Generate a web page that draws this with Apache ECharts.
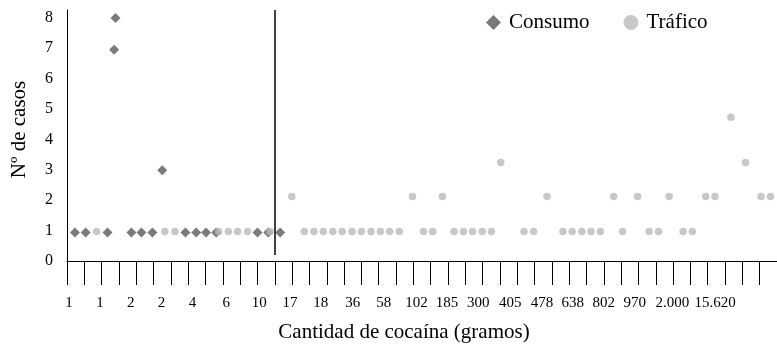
<!DOCTYPE html>
<html>
<head>
<meta charset="utf-8">
<script src="https://cdn.jsdelivr.net/npm/echarts@6/dist/echarts.min.js"></script>
<style>
html,body{margin:0;padding:0;background:#fff;}
#chart{width:777px;height:348px;}
</style>
</head>
<body>
<div id="chart"></div>
<script>
// x positions are in tick-band units of the axis (ticks at 0,1,2,...,41)
const consumoX = [0.46, 1.08, 2.34, 2.72, 2.80, 3.72, 4.30, 4.93, 5.50, 6.84, 7.46, 8.03, 8.61, 11.0, 11.62, 12.31];
const consumoY = [0.94, 0.94, 0.94, 6.95, 8.0, 0.94, 0.94, 0.94, 2.99, 0.94, 0.94, 0.94, 0.94, 0.94, 0.94, 0.94];

const traficoX = [1.71, 5.65, 6.23, 8.76, 9.32, 9.85, 10.43, 11.73, 12.98, 13.70, 14.26, 14.80, 15.35, 15.89, 16.46,
  17.00, 17.56, 18.10, 18.63, 19.19, 19.95, 20.59, 21.12, 21.68, 22.35, 22.89, 23.42, 23.98, 24.51, 25.05,
  26.39, 26.95, 27.72, 28.64, 29.17, 29.73, 30.26, 30.80, 31.57, 32.08, 32.95, 33.62, 34.16, 34.77, 35.58,
  36.11, 36.88, 37.42, 38.34, 39.18, 40.08, 40.62];
const traficoY = [0.97, 0.97, 0.97, 0.97, 0.97, 0.97, 0.97, 0.97, 2.12, 0.97, 0.97, 0.97, 0.97, 0.97, 0.97,
  0.97, 0.97, 0.97, 0.97, 0.97, 2.12, 0.97, 0.97, 2.12, 0.97, 0.97, 0.97, 0.97, 0.97, 3.24,
  0.97, 0.97, 2.12, 0.97, 0.97, 0.97, 0.97, 0.97, 2.12, 0.97, 2.12, 0.97, 0.97, 2.12, 0.97,
  0.97, 2.12, 2.12, 4.73, 3.24, 2.12, 2.12];

const labelText = ['1','1','2','2','4','6','10','17','18','36','58','102','185','300','405','478','638','802','970','2.000','15.620'];
const labelX = [0.12, 1.90, 3.68, 5.46, 7.25, 9.2, 11.1, 12.88, 14.66, 16.5, 18.29, 20.18, 21.94, 23.75, 25.59, 27.43, 29.21, 30.99, 32.78, 34.96, 37.43];

const yTicks = [0,1,2,3,4,5,6,7,8];
const separatorX = 12;
const xMax = 41;
const yMax = 8.26;

const FONT = 'Liberation Serif';
const chart = echarts.init(document.getElementById('chart'), null, {renderer: 'canvas'});

const zip = (xs, ys) => xs.map((x, i) => [x, ys[i]]);

chart.setOption({
  animation: false,
  backgroundColor: '#fff',
  textStyle: {fontFamily: FONT},
  grid: {left: 67, top: 10, width: 713, bottom: 86},
  legend: {
    left: 486, top: 12, padding: 0,
    itemWidth: 15, itemHeight: 15, itemGap: 34,
    textStyle: {fontFamily: FONT, fontSize: 21, color: '#000', padding: [0, 0, 0, 3]},
    data: [{name: 'Consumo', icon: 'diamond'}, {name: 'Tráfico', icon: 'circle'}]
  },
  xAxis: [{
    type: 'value', min: 0, max: xMax, interval: 1, position: 'bottom',
    axisLine: {show: true, lineStyle: {color: '#000', width: 1}},
    axisTick: {show: true, length: 24, lineStyle: {color: '#000', width: 1}},
    axisLabel: {show: false},
    splitLine: {show: false}
  }, {
    type: 'value', min: 0, max: xMax, position: 'bottom', offset: 0,
    axisLine: {show: false}, axisTick: {show: false}, splitLine: {show: false},
    axisLabel: {
      show: true, customValues: labelX, margin: 35,
      fontFamily: FONT, fontSize: 15, color: '#000',
      formatter: function (v) {
        for (let i = 0; i < labelX.length; i++) if (Math.abs(labelX[i] - v) < 1e-6) return labelText[i];
        return '';
      }
    },
    name: 'Cantidad de cocaína (gramos)', nameLocation: 'middle', nameGap: 61,
    nameTextStyle: {fontFamily: FONT, fontSize: 21, color: '#000', padding: [0, 36, 0, 0]}
  }],
  yAxis: {
    type: 'value', min: 0, max: yMax, interval: 1,
    axisLine: {show: true, lineStyle: {color: '#000', width: 1}},
    axisTick: {show: false}, splitLine: {show: false},
    axisLabel: {
      customValues: yTicks, margin: 14, fontFamily: FONT, fontSize: 16, color: '#000',
      formatter: v => String(v)
    },
    name: 'Nº de casos', nameLocation: 'middle', nameGap: 37,
    nameTextStyle: {fontFamily: FONT, fontSize: 21, color: '#000', padding: [0, 0, 0, 12]}
  },
  series: [{
    name: 'Consumo', type: 'scatter', xAxisIndex: 0,
    symbol: 'diamond', symbolSize: 10,
    itemStyle: {color: '#595959'},
    data: zip(consumoX, consumoY)
  }, {
    name: 'Tráfico', type: 'scatter', xAxisIndex: 0,
    symbol: 'circle', symbolSize: 7.5,
    itemStyle: {color: '#bababa'},
    data: zip(traficoX, traficoY),
    markLine: {
      silent: true, symbol: 'none', label: {show: false},
      lineStyle: {color: '#000', width: 1.5, type: 'solid'},
      data: [[{coord: [separatorX, 0.2]}, {coord: [separatorX, yMax]}]]
    }
  }]
});
</script>
</body>
</html>
